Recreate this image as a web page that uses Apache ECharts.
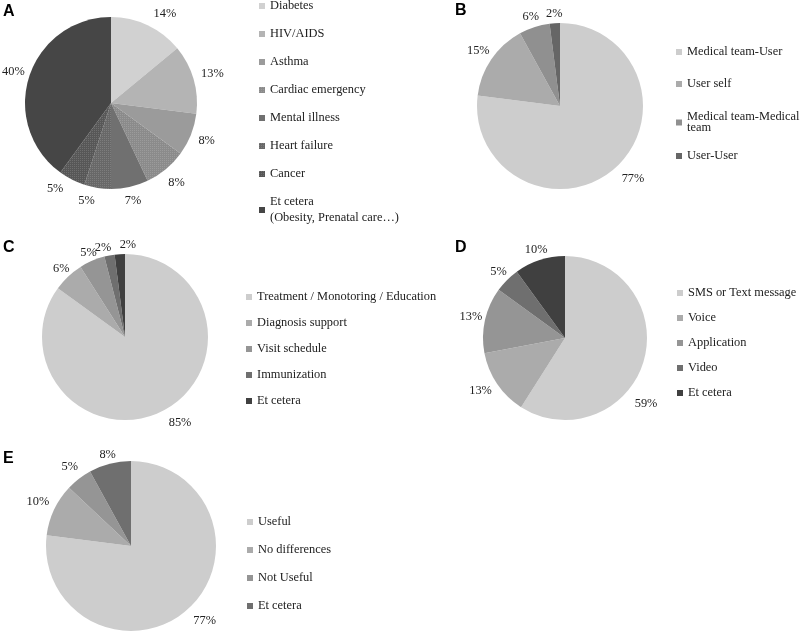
<!DOCTYPE html>
<html>
<head>
<meta charset="utf-8">
<script src="https://cdn.jsdelivr.net/npm/echarts@6/dist/echarts.min.js"></script>
<style>
  html, body { margin: 0; padding: 0; background: #fff; }
  #chart { width: 800px; height: 635px; }
</style>
</head>
<body>
<div id="chart"></div>
<script>
// ---- Data ----
const catA = ['Diabetes', 'HIV/AIDS', 'Asthma', 'Cardiac emergency', 'Mental illness', 'Heart failure', 'Cancer', 'Et cetera'];
const valA = [14, 13, 8, 8, 7, 5, 5, 40];
const colA = ['#d1d1d1', '#b4b4b4', '#9b9b9b', '#8b8b8b', '#707070', '#686868', '#575757', '#464646'];
const patA = [false, false, false, true, false, true, true, false];

const catB = ['Medical team-User', 'User self', 'Medical team-Medical team', 'User-User'];
const valB = [77, 15, 6, 2];
const colB = ['#cdcdcd', '#ababab', '#909090', '#666666'];

const catC = ['Treatment / Monotoring / Education', 'Diagnosis support', 'Visit schedule', 'Immunization', 'Et cetera'];
const valC = [85, 6, 5, 2, 2];
const colC = ['#cdcdcd', '#ababab', '#959595', '#6f6f6f', '#404040'];

const catD = ['SMS or Text message', 'Voice', 'Application', 'Video', 'Et cetera'];
const valD = [59, 13, 13, 5, 10];
const colD = ['#cdcdcd', '#ababab', '#959595', '#6f6f6f', '#404040'];

const catE = ['Useful', 'No differences', 'Not Useful', 'Et cetera'];
const valE = [77, 10, 5, 8];
const colE = ['#cdcdcd', '#ababab', '#959595', '#6f6f6f'];

const legendNames = {
  A: { 'Et cetera': 'Et cetera\n(Obesity, Prenatal care…)' },
  B: { 'Medical team-Medical team': 'Medical team-Medical\nteam' }
};

// ---- Label placement style (angle nudge in degrees, gap from rim in px) ----
const labelStyle = {
  A: { gap: 7, tweak: { 0: [6, 7], 5: [5, 7], 6: [6, 7], 7: [0, 4] } },
  B: { gap: 3, tweak: { 0: [-3.6, 8] } },
  C: { gap: 0, tweak: { 0: [-5.6, 8], 3: [-3, 1], 4: [5.4, 3] } },
  D: { gap: 2, tweak: { 0: [23, 10], 1: [2, 5] } },
  E: { gap: 5, tweak: { 0: [-3, 8], 3: [0, 1] } }
};

// ---- Helpers ----
const serif = 'Liberation Serif, Times New Roman, serif';
const textColor = '#222';
const fontSize = 12.4;

function makeData(cats, vals, cols, pats) {
  return cats.map((c, i) => {
    const item = { name: c, value: vals[i], itemStyle: { color: cols[i] } };
    if (pats && pats[i]) {
      item.itemStyle.decal = {
        symbol: 'rect', symbolSize: 1,
        dashArrayX: [1, 1], dashArrayY: [1, 1],
        color: 'rgba(255,255,255,0.14)'
      };
    }
    return item;
  });
}

function makeLabelLayout(R, ls) {
  return function (params) {
    const pts = params.labelLinePoints;
    if (!pts || pts.length < 2) return { align: 'center', verticalAlign: 'middle' };
    let dx = pts[1][0] - pts[0][0], dy = pts[1][1] - pts[0][1];
    const len = Math.hypot(dx, dy) || 1;
    dx /= len; dy /= len;
    const cx = pts[0][0] - dx * R, cy = pts[0][1] - dy * R;
    const tw = ls.tweak[params.dataIndex] || [0, ls.gap];
    const a = tw[0] * Math.PI / 180;
    const ndx = dx * Math.cos(a) - dy * Math.sin(a);
    const ndy = dy * Math.cos(a) + dx * Math.sin(a);
    const w = params.labelRect.width, h = params.labelRect.height;
    const ext = Math.abs(ndx) * w / 2 + Math.abs(ndy) * h / 2;
    const d = R + tw[1] + ext;
    return { x: cx + ndx * d, y: cy + ndy * d, align: 'center', verticalAlign: 'middle' };
  };
}

function makePie(cats, vals, cols, center, radius, ls, pats) {
  return {
    type: 'pie',
    center: center,
    radius: radius,
    startAngle: 90,
    clockwise: true,
    avoidLabelOverlap: false,
    silent: true,
    animation: false,
    data: makeData(cats, vals, cols, pats),
    itemStyle: { borderWidth: 0 },
    label: {
      show: true,
      position: 'outside',
      formatter: '{c}%',
      fontFamily: serif,
      fontSize: fontSize,
      color: textColor
    },
    labelLine: { show: true, length: 10, length2: 0, lineStyle: { opacity: 0 } },
    labelLayout: makeLabelLayout(radius, ls)
  };
}

function makeLegend(cats, cols, left, top, gap, lineHeight, map) {
  return {
    orient: 'vertical',
    left: left,
    top: top,
    itemGap: gap,
    itemWidth: 6,
    itemHeight: 6,
    icon: 'rect',
    padding: 0,
    selectedMode: false,
    data: cats.map((c, i) => ({ name: c, icon: 'rect', itemStyle: { color: cols[i] } })),
    formatter: function (name) { return (map && map[name]) ? map[name] : name; },
    textStyle: { fontFamily: serif, fontSize: fontSize, color: textColor, lineHeight: lineHeight }
  };
}

function makeTitle(text, left, top) {
  return {
    text: text, left: left, top: top, padding: 0,
    textStyle: { fontFamily: 'Liberation Sans, Arial, sans-serif', fontWeight: 'bold', fontSize: 16, color: '#000' }
  };
}

const chart = echarts.init(document.getElementById('chart'), null, { renderer: 'canvas' });
chart.setOption({
  backgroundColor: '#fff',
  animation: false,
  title: [
    makeTitle('A', 3, 4),
    makeTitle('B', 455, 3),
    makeTitle('C', 3, 240),
    makeTitle('D', 455, 240),
    makeTitle('E', 3, 451)
  ],
  legend: [
    makeLegend(catA, colA, 259, -2, 12, 16, legendNames.A),
    makeLegend(catB.slice(0, 2), colB.slice(0, 2), 676, 46, 20, 12, legendNames.B),
    makeLegend(catB.slice(2), colB.slice(2), 676, 111, 16, 11, legendNames.B),
    makeLegend(catC, colC, 246, 290, 12, 14),
    makeLegend(catD, colD, 677, 286, 11, 14),
    makeLegend(catE, colE, 247, 515, 14, 14)
  ],
  series: [
    makePie(catA, valA, colA, [111, 103], 86, labelStyle.A, patA),
    makePie(catB, valB, colB, [560, 106], 83, labelStyle.B),
    makePie(catC, valC, colC, [125, 337], 83, labelStyle.C),
    makePie(catD, valD, colD, [565, 338], 82, labelStyle.D),
    makePie(catE, valE, colE, [131, 546], 85, labelStyle.E)
  ]
});
</script>
</body>
</html>
